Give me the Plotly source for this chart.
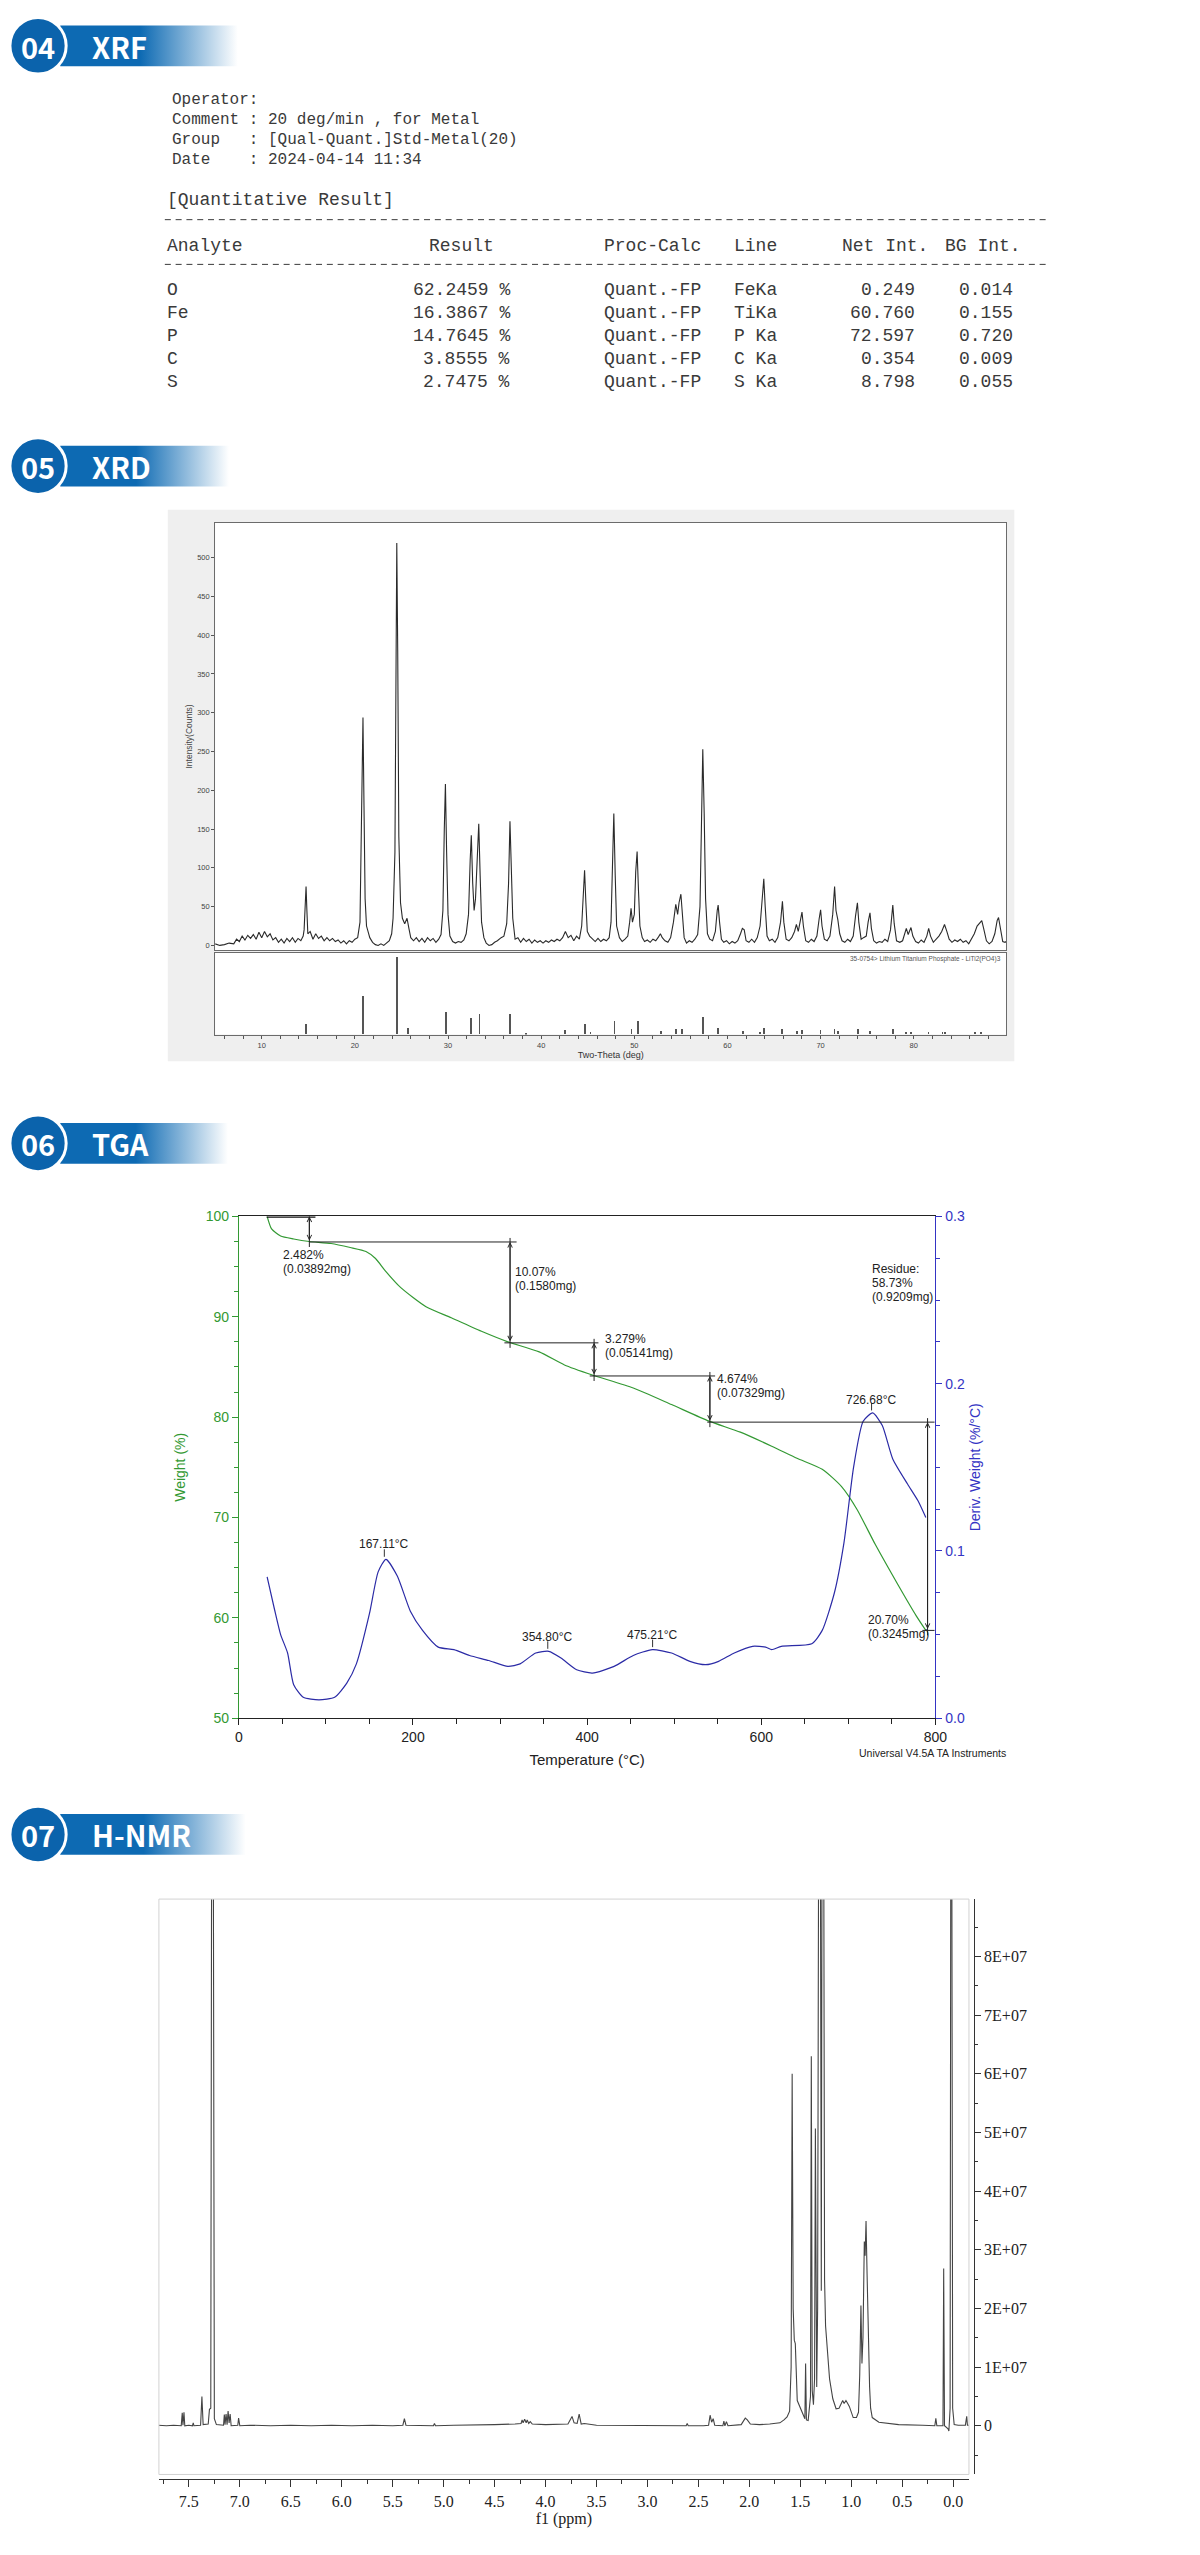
import plotly.graph_objects as go

PAGE_W, PAGE_H = 1200, 2555


def fx(px):
    # page pixel -> paper x
    return px / PAGE_W


def fy(py):
    # page pixel (from top) -> paper y
    return 1 - py / PAGE_H


# ---------------- section headers ----------------
section_numbers = ["04", "05", "06", "07"]
section_titles = ["XRF", "XRD", "TGA", "H-NMR"]

# ---------------- XRF report ----------------
xrf_meta_lines = [
    "Operator:",
    "Comment : 20 deg/min , for Metal",
    "Group   : [Qual-Quant.]Std-Metal(20)",
    "Date    : 2024-04-14 11:34",
]
xrf_columns = ["Analyte", "Result", "Proc-Calc", "Line", "Net Int.", "BG Int."]
xrf_analyte = ["O", "Fe", "P", "C", "S"]
xrf_result = [62.2459, 16.3867, 14.7645, 3.8555, 2.7475]
xrf_proc_calc = ["Quant.-FP", "Quant.-FP", "Quant.-FP", "Quant.-FP", "Quant.-FP"]
xrf_line = ["FeKa", "TiKa", "P Ka", "C Ka", "S Ka"]
xrf_net_int = [0.249, 60.760, 72.597, 0.354, 8.798]
xrf_bg_int = [0.014, 0.155, 0.720, 0.009, 0.055]

# ---------------- XRD pattern ----------------
xrd_two_theta = [
    5.0, 5.5, 6.0, 6.5, 7.0, 7.3, 7.6, 7.9, 8.2, 8.5,
    8.8, 9.1, 9.4, 9.7, 10.0, 10.3, 10.6, 10.9, 11.2, 11.5,
    11.8, 12.1, 12.4, 12.7, 13.0, 13.3, 13.6, 13.9, 14.2, 14.45,
    14.55, 14.68, 14.76, 14.85, 14.95, 15.2, 15.5, 15.8, 16.1, 16.4,
    16.7, 17.0, 17.3, 17.6, 17.9, 18.2, 18.5, 18.8, 19.1, 19.4,
    19.7, 20.0, 20.3, 20.55, 20.72, 20.87, 20.98, 21.1, 21.25, 21.4,
    21.6, 21.9, 22.2, 22.5, 22.8, 23.1, 23.4, 23.7, 23.95, 24.1,
    24.3, 24.42, 24.5, 24.6, 24.72, 24.9, 25.1, 25.35, 25.6, 25.8,
    26.0, 26.3, 26.6, 26.9, 27.2, 27.5, 27.8, 28.1, 28.4, 28.7,
    29.0, 29.25, 29.45, 29.6, 29.72, 29.85, 30.0, 30.2, 30.5, 30.8,
    31.1, 31.4, 31.7, 31.95, 32.2, 32.38, 32.5, 32.65, 32.8, 32.95,
    33.15, 33.3, 33.45, 33.6, 33.85, 34.1, 34.4, 34.7, 35.0, 35.3,
    35.7, 36.0, 36.3, 36.5, 36.65, 36.8, 36.95, 37.2, 37.5, 37.8,
    38.1, 38.4, 38.7, 39.0, 39.3, 39.6, 39.9, 40.2, 40.5, 40.8,
    41.1, 41.4, 41.7, 42.0, 42.3, 42.6, 42.9, 43.2, 43.5, 43.8,
    44.1, 44.35, 44.5, 44.66, 44.8, 44.95, 45.2, 45.5, 45.8, 46.1,
    46.4, 46.7, 47.0, 47.3, 47.5, 47.65, 47.8, 47.95, 48.1, 48.4,
    48.7, 49.0, 49.3, 49.5, 49.65, 49.8, 50.0, 50.15, 50.3, 50.45,
    50.6, 50.85, 51.1, 51.4, 51.7, 52.0, 52.3, 52.6, 52.8, 53.0,
    53.3, 53.6, 53.9, 54.2, 54.45, 54.65, 54.8, 55.0, 55.15, 55.35,
    55.6, 55.9, 56.2, 56.5, 56.8, 57.05, 57.2, 57.35, 57.5, 57.65,
    57.85, 58.1, 58.4, 58.7, 58.9, 59.0, 59.15, 59.35, 59.6, 59.9,
    60.2, 60.5, 60.8, 61.1, 61.4, 61.6, 61.8, 62.0, 62.3, 62.6,
    62.9, 63.2, 63.5, 63.75, 63.9, 64.05, 64.25, 64.5, 64.8, 65.1,
    65.4, 65.7, 65.9, 66.05, 66.3, 66.6, 66.9, 67.2, 67.4, 67.6,
    67.85, 68.0, 68.15, 68.4, 68.7, 69.0, 69.3, 69.6, 69.85, 70.0,
    70.15, 70.4, 70.7, 71.0, 71.3, 71.5, 71.65, 71.85, 72.05, 72.3,
    72.6, 72.9, 73.2, 73.5, 73.75, 73.95, 74.1, 74.35, 74.6, 74.9,
    75.1, 75.3, 75.45, 75.7, 76.0, 76.3, 76.6, 76.9, 77.2, 77.5,
    77.75, 77.9, 78.15, 78.5, 78.8, 79.05, 79.2, 79.4, 79.7, 79.9,
    80.2, 80.5, 80.8, 81.1, 81.4, 81.6, 81.8, 82.1, 82.4, 82.7,
    83.0, 83.3, 83.55, 83.8, 84.1, 84.4, 84.7, 85.0, 85.3, 85.6,
    85.9, 86.2, 86.5, 86.8, 87.1, 87.3, 87.5, 87.8, 88.1, 88.4,
    88.7, 88.95, 89.1, 89.3, 89.55, 89.8, 90.0,
]
xrd_counts = [
    2, 0, 1, 3, 2, 8, 5, 12, 7, 13,
    9, 14, 8, 17, 10, 18, 11, 15, 7, 10,
    4, 8, 3, 9, 5, 10, 4, 9, 6, 12,
    20, 55, 76, 45, 15, 18, 8, 15, 9, 12,
    6, 10, 6, 9, 5, 7, 3, 6, 2, 6,
    4, 8, 10, 30, 150, 294, 180, 60, 25, 18,
    10, 4, 1, 0, 2, 0, 3, 6, 15, 35,
    120, 350, 519, 380, 140, 55, 35, 28, 35, 22,
    10, 6, 10, 5, 9, 4, 10, 6, 9, 4,
    8, 14, 45, 150, 208, 120, 40, 12, 5, 3,
    5, 4, 7, 15, 40, 110, 142, 80, 45, 60,
    120, 157, 90, 30, 10, 3, 0, 1, 4, 6,
    10, 12, 28, 80, 160, 110, 35, 8, 10, 4,
    9, 5, 8, 3, 7, 4, 6, 3, 6, 4,
    7, 5, 8, 6, 10, 18, 10, 13, 6, 12,
    8, 25, 60, 97, 55, 18, 12, 8, 5, 9,
    5, 8, 6, 10, 30, 100, 170, 90, 25, 10,
    5, 8, 12, 30, 48, 30, 40, 95, 121, 70,
    25, 10, 5, 7, 4, 8, 6, 11, 15, 10,
    6, 4, 10, 30, 53, 40, 55, 66, 40, 10,
    3, 6, 4, 8, 14, 50, 150, 253, 170, 60,
    15, 8, 6, 18, 45, 52, 30, 8, 4, 6,
    2, 5, 3, 6, 15, 22, 20, 6, 4, 8,
    4, 10, 25, 60, 86, 50, 12, 6, 8, 4,
    10, 30, 57, 30, 8, 6, 10, 18, 27, 18,
    35, 43, 25, 6, 4, 8, 5, 12, 35, 46,
    25, 8, 6, 12, 40, 76, 45, 33, 15, 6,
    4, 8, 5, 12, 38, 55, 30, 8, 10, 12,
    30, 42, 22, 6, 3, 5, 4, 8, 5, 20,
    52, 28, 6, 4, 6, 18, 22, 14, 23, 12,
    5, 3, 7, 4, 12, 22, 12, 4, 8, 12,
    18, 27, 18, 8, 4, 7, 5, 8, 4, 6,
    2, 8, 15, 25, 30, 32, 22, 6, 2, 5,
    15, 32, 36, 20, 5, 4, 6,
]
xrd_ref_two_theta = [14.8, 20.9, 24.5, 25.7, 29.8, 32.5, 33.4, 36.7, 38.4, 42.6,
                     44.7, 45.3, 47.9, 49.7, 50.4, 52.9, 54.5, 55.1, 57.4, 59.0,
                     61.7, 63.5, 63.9, 65.9, 67.5, 68.0, 70.0, 71.5, 71.9, 74.0,
                     75.3, 77.8, 79.2, 79.7, 81.6, 83.1, 83.4, 86.6, 87.2]
xrd_ref_intensity = [14, 50, 100, 9, 29, 21, 27, 26, 2, 6,
                     13, 3, 18, 7, 17, 4, 7, 7, 22, 8,
                     5, 3, 9, 7, 5, 6, 6, 7, 4, 7,
                     5, 7, 3, 3, 3, 3, 3, 3, 3]
xrd_ref_label = "35-0754> Lithium Titanium Phosphate - LiTi2(PO4)3"

# ---------------- TGA ----------------
tga_temp = [32.5, 37.6, 48, 63, 81, 106, 128, 146, 157, 168,
            186, 215, 244, 280, 309, 345, 374, 406, 453, 497,
            540, 576, 612, 641, 670, 692, 710, 731, 757, 778, 789]
tga_weight = [100, 98.75, 98.04, 97.75, 97.5, 97.3, 96.9, 96.5, 95.8, 94.6,
              92.9, 91.0, 89.9, 88.5, 87.5, 86.5, 85.2, 84.2, 82.9, 81.25,
              79.6, 78.5, 77.1, 75.9, 74.8, 73.1, 70.8, 67.3, 63.3, 60.2, 58.75]
dtg_temp = [32.5, 41, 48, 56, 63, 74, 92, 110, 124, 135,
            150, 160, 169, 182, 197, 211, 229, 247, 265, 287,
            309, 323, 341, 356, 370, 388, 406, 431, 453, 475,
            497, 518, 536, 551, 569, 590, 605, 612, 623, 658,
            670, 684, 695, 706, 717, 728, 739, 751, 768, 780, 789]
dtg_deriv = [0.0845, 0.065, 0.05, 0.039, 0.02, 0.0125, 0.011, 0.0125, 0.021, 0.0325,
             0.0625, 0.0875, 0.095, 0.085, 0.064, 0.0525, 0.0425, 0.041, 0.0375, 0.0345,
             0.031, 0.0325, 0.039, 0.04, 0.036, 0.029, 0.027, 0.031, 0.0375, 0.041,
             0.039, 0.034, 0.032, 0.034, 0.039, 0.043, 0.0425, 0.041, 0.043, 0.0445,
             0.0525, 0.075, 0.105, 0.15, 0.1775, 0.1825, 0.175, 0.155, 0.14, 0.13, 0.12]

# weight-loss steps: arrow x, upper and lower weight levels
step_temp = [81, 311.5, 408, 541, 791]
step_upper = [100, 97.45, 87.4, 84.1, 79.5]
step_lower = [97.45, 87.4, 84.1, 79.5, 58.75]
step_guide_from = [81, 305, 403, 538, 785]
step_guide_to = [319, 413, 547, 799, 799]
step_pct = ["2.482%", "10.07%", "3.279%", "4.674%", "20.70%"]
step_mass = ["(0.03892mg)", "(0.1580mg)", "(0.05141mg)", "(0.07329mg)", "(0.3245mg)"]
step_label_temp = [48.4, 314.4, 418.4, 547, 720.5]
step_label_weight = [96.12, 94.5, 87.79, 83.83, 59.79]

residue_lines = ["Residue:", "58.73%", "(0.9209mg)"]

peak_temp = [167.11, 354.80, 475.21, 726.68]
peak_deriv = [0.095, 0.040, 0.041, 0.1825]
peak_label_weight = [67.37, 58.12, 58.33, 81.75]

# ---------------- H-NMR ----------------
nmr_ppm = [
    7.80, 7.72, 7.65, 7.575, 7.565, 7.558, 7.548, 7.54, 7.50, 7.465,
    7.457, 7.45, 7.385, 7.372, 7.36, 7.31, 7.298, 7.285, 7.275, 7.262,
    7.25, 7.23, 7.16, 7.152, 7.145, 7.135, 7.125, 7.115, 7.105, 7.095,
    7.085, 7.02, 7.012, 7.0, 6.9, 6.7, 6.5, 6.3, 6.1, 5.9,
    5.7, 5.5, 5.40, 5.385, 5.37, 5.25, 5.10, 5.09, 5.08, 4.9,
    4.7, 4.5, 4.3, 4.24, 4.23, 4.22, 4.205, 4.19, 4.18, 4.165,
    4.15, 4.13, 4.0, 3.9, 3.78, 3.74, 3.72, 3.69, 3.67, 3.65,
    3.62, 3.5, 3.3, 3.1, 2.9, 2.7, 2.62, 2.61, 2.60, 2.45,
    2.40, 2.385, 2.37, 2.355, 2.34, 2.26, 2.25, 2.24, 2.225, 2.21,
    2.08, 2.04, 2.02, 1.99, 1.90, 1.80, 1.70, 1.66, 1.63, 1.605,
    1.59, 1.58, 1.57, 1.559, 1.549, 1.53, 1.50, 1.471, 1.455, 1.448,
    1.44, 1.423, 1.40, 1.392, 1.383, 1.371, 1.36, 1.352, 1.343, 1.339,
    1.33, 1.318, 1.305, 1.294, 1.285, 1.272, 1.262, 1.252, 1.239, 1.213,
    1.181, 1.149, 1.12, 1.084, 1.07, 1.052, 1.035, 1.019, 0.981, 0.949,
    0.929, 0.917, 0.905, 0.895, 0.885, 0.872, 0.864, 0.855, 0.845, 0.833,
    0.82, 0.81, 0.794, 0.729, 0.535, 0.30, 0.18, 0.17, 0.16, 0.10,
    0.093, 0.085, 0.05, 0.042, 0.03, 0.022, 0.015, 0.005, -0.01, -0.05,
    -0.12, -0.133, -0.14, -0.155,
]
# intensity in units of 1E+07
nmr_intensity = [
    0.01, 0.0, 0.01, 0.0, 0.22, 0.01, 0.23, 0.0, 0.01, 0.0,
    0.05, 0.0, 0.01, 0.50, 0.02, 0.03, 0.28, 0.3, 12, 12,
    0.12, 0.02, 0.01, 0.19, 0.02, 0.2, 0.02, 0.25, 0.05, 0.2,
    0.0, 0.01, 0.13, 0.0, 0.01, 0.0, 0.01, 0.0, 0.01, 0.0,
    0.01, 0.0, 0.01, 0.12, 0.01, 0.0, 0.0, 0.04, 0.0, 0.01,
    0.01, 0.02, 0.03, 0.04, 0.1, 0.05, 0.11, 0.05, 0.1, 0.04,
    0.07, 0.03, 0.02, 0.03, 0.03, 0.16, 0.05, 0.04, 0.2, 0.03,
    0.04, 0.01, 0.01, 0.0, 0.01, 0.0, 0.0, 0.04, 0.0, 0.0,
    0.01, 0.18, 0.06, 0.12, 0.01, 0.0, 0.08, 0.0, 0.07, 0.0,
    0.02, 0.13, 0.1, 0.03, 0.02, 0.03, 0.05, 0.1, 0.15, 0.25,
    1.0, 6.0, 2.0, 1.46, 1.4, 0.43, 0.3, 0.19, 0.12, 1.06,
    0.1, 0.09, 0.5, 6.3, 0.6, 0.36, 0.8, 5.07, 0.8, 0.66,
    2.0, 12, 12, 2.3, 12, 12, 2.5, 1.7, 1.33, 0.8,
    0.46, 0.29, 0.3, 0.43, 0.38, 0.43, 0.38, 0.33, 0.14, 0.14,
    0.23, 0.86, 2.05, 1.06, 1.5, 3.14, 2.9, 3.49, 2.6, 1.5,
    0.66, 0.3, 0.14, 0.06, 0.02, 0.01, 0.0, 0.125, 0.0, 0.0,
    2.68, 0.0, -0.05, -0.09, 0.3, 12, 12, 0.3, 0.02, 0.01,
    0.01, 0.16, 0.01, 0.01,
]
nmr_tick_vals = [0, 1, 2, 3, 4, 5, 6, 7, 8]
nmr_tick_text = ["0", "1E+07", "2E+07", "3E+07", "4E+07", "5E+07", "6E+07", "7E+07", "8E+07"]

# ---------------- styling ----------------
BLUE = "#0d6ab3"
BLUE_DARK = "#0b63ac"
GREEN = "#339933"
NAVY = "#2b2ba6"
AXIS_BLUE = "#3434c4"
MONO = "Liberation Mono"
SANS = "Liberation Sans"
SERIF = "Liberation Serif"
HEAD = "Noto Sans CJK KR"
XRF_TEXT = "#3a3a3a"

HEADER_Y = [38, 461, 1142.5, 1838]
HEADER_BAR_END = [237, 228, 227, 245]

fig = go.Figure()
shapes = []
annotations = []

# XRD traces
fig.add_trace(go.Scatter(x=xrd_two_theta, y=xrd_counts, mode="lines",
                         line=dict(color="#2a2a2a", width=1.1),
                         xaxis="x", yaxis="y", hoverinfo="skip"))
fig.add_trace(go.Bar(x=xrd_ref_two_theta, y=xrd_ref_intensity, width=0.08,
                     marker=dict(color="#555555", line=dict(width=0)),
                     xaxis="x2", yaxis="y2", hoverinfo="skip"))

# TGA traces
fig.add_trace(go.Scatter(x=tga_temp, y=tga_weight, mode="lines",
                         line=dict(color=GREEN, width=1.2, shape="spline", smoothing=0.6),
                         xaxis="x3", yaxis="y3", hoverinfo="skip"))
fig.add_trace(go.Scatter(x=dtg_temp, y=dtg_deriv, mode="lines",
                         line=dict(color=NAVY, width=1.2, shape="spline", smoothing=0.6),
                         xaxis="x3", yaxis="y4", hoverinfo="skip"))

# NMR trace
fig.add_trace(go.Scatter(x=nmr_ppm, y=nmr_intensity, mode="lines",
                         line=dict(color="#444444", width=1.1),
                         xaxis="x5", yaxis="y5", hoverinfo="skip"))

# section headers drawn on a full-page pixel axis (x6/y6)
for num, title, cy, x_end in zip(section_numbers, section_titles, HEADER_Y, HEADER_BAR_END):
    fig.add_trace(go.Scatter(
        x=[57, x_end, x_end, 57, 57], y=[cy - 20.5, cy - 20.5, cy + 20.5, cy + 20.5, cy - 20.5],
        mode="lines", line=dict(width=0), fill="toself",
        fillgradient=dict(type="horizontal",
                          colorscale=[[0, BLUE], [0.45, BLUE], [1, "rgba(255,255,255,1)"]]),
        xaxis="x6", yaxis="y6", hoverinfo="skip"))
    shapes.append(dict(type="circle", xref="x6", yref="y6", x0=6, x1=63,
                       y0=cy - 28.5, y1=cy + 28.5, fillcolor=BLUE_DARK,
                       line=dict(color="white", width=3), layer="above"))
    annotations.append(dict(xref="x6", yref="y6", x=34.5, y=cy, text=num, showarrow=False,
                            font=dict(family=HEAD, size=29, color="white", weight="bold")))
    annotations.append(dict(xref="x6", yref="y6", x=87, y=cy, text=title, showarrow=False,
                            xanchor="left",
                            font=dict(family=HEAD, size=29, color="white", weight="bold")))


def page_text(x, y, text, size, anchor="left", family=MONO, color=XRF_TEXT):
    annotations.append(dict(xref="x6", yref="y6", x=x, y=y, text=text, showarrow=False,
                            xanchor=anchor, yanchor="middle",
                            font=dict(family=family, size=size, color=color)))


# XRF report
for i, line in enumerate(xrf_meta_lines):
    page_text(168, 93 + 20 * i, line.replace(" ", "&nbsp;"), 16)
page_text(163, 193, "[Quantitative Result]", 18)
for yy in (213, 258):
    shapes.append(dict(type="line", xref="x6", yref="y6", x0=163, x1=1056, y0=yy, y1=yy,
                       line=dict(color=XRF_TEXT, width=1, dash="6px,4.8px")))
col_x = [163, 429, 606, 738, 847, 952]
for cx, name in zip(col_x, xrf_columns):
    page_text(cx, 239, name, 18)
for i in range(len(xrf_analyte)):
    ry = 284 + 23 * i
    page_text(163, ry, xrf_analyte[i], 18)
    page_text(515, ry, f"{xrf_result[i]:.4f} %", 18, anchor="right")
    page_text(606, ry, xrf_proc_calc[i], 18)
    page_text(738, ry, xrf_line[i].replace(" ", "&nbsp;"), 18)
    page_text(925, ry, f"{xrf_net_int[i]:.3f}", 18, anchor="right")
    page_text(1025, ry, f"{xrf_bg_int[i]:.3f}", 18, anchor="right")

# XRD backdrop
shapes.append(dict(type="rect", xref="paper", yref="paper", x0=fx(166), x1=fx(1024),
                   y0=fy(1060), y1=fy(505), fillcolor="#efefef", line=dict(width=0), layer="below"))
for top, bottom in ((518, 948), (951, 1033)):
    shapes.append(dict(type="rect", xref="paper", yref="paper", x0=fx(214), x1=fx(1016),
                       y0=fy(bottom), y1=fy(top), fillcolor="white", line=dict(width=0),
                       layer="below"))
annotations.append(dict(xref="paper", yref="paper", x=fx(1013), y=fy(957), text=xrd_ref_label,
                        showarrow=False, xanchor="right", yanchor="middle",
                        font=dict(family=SANS, size=6.5, color="#555555")))

# TGA decorations
def tga_text(x, y, text, anchor="left"):
    annotations.append(dict(xref="x3", yref="y3", x=x, y=y, text=text, showarrow=False,
                            xanchor=anchor, yanchor="middle",
                            font=dict(family=SANS, size=12, color="#222222")))


shapes.append(dict(type="line", xref="x3", yref="y3", x0=32, x1=88, y0=100, y1=100,
                   line=dict(color="#111111", width=2.5)))
for i in range(len(step_temp)):
    lvl = step_lower[i]
    shapes.append(dict(type="line", xref="x3", yref="y3", x0=step_guide_from[i],
                       x1=step_guide_to[i], y0=lvl, y1=lvl, line=dict(color="#222222", width=1)))
    shapes.append(dict(type="line", xref="x3", yref="y3", x0=step_temp[i], x1=step_temp[i],
                       y0=step_upper[i] + 0.4, y1=step_lower[i] - 0.5,
                       line=dict(color="#222222", width=1)))
    annotations.append(dict(xref="x3", yref="y3", axref="x3", ayref="y3",
                            x=step_temp[i], y=step_upper[i], ax=step_temp[i], ay=step_lower[i],
                            text="", showarrow=True, arrowside="end+start",
                            arrowhead=5, startarrowhead=5, arrowsize=0.9, startarrowsize=0.9,
                            arrowwidth=1, arrowcolor="#222222", standoff=0, startstandoff=0))
    tga_text(step_label_temp[i], step_label_weight[i], step_pct[i])
    tga_text(step_label_temp[i], step_label_weight[i] - 1.4, step_mass[i])
for j, line in enumerate(residue_lines):
    tga_text(725, 94.8 - 1.4 * j, line)
for t, d, w in zip(peak_temp, peak_deriv, peak_label_weight):
    shapes.append(dict(type="line", xref="x3", yref="y4", x0=t, x1=t, y0=d + 0.0015, y1=d + 0.006,
                       line=dict(color="#333333", width=1)))
    tga_text(t, w, f"{t:.2f}°C", anchor="center")
annotations.append(dict(xref="paper", yref="paper", x=fx(1018), y=fy(1756),
                        text="Universal V4.5A TA Instruments", showarrow=False,
                        xanchor="right", yanchor="middle",
                        font=dict(family=SANS, size=10.5, color="#222222")))

# NMR frame
shapes.append(dict(type="rect", xref="paper", yref="paper", x0=fx(157), x1=fx(978),
                   y0=fy(2482), y1=fy(1903), line=dict(color="#d2d2d2", width=1)))

xrd_axis_font = dict(family=SANS, size=7.5, color="#444444")
common = dict(showgrid=False, zeroline=False)

fig.update_layout(
    width=PAGE_W, height=PAGE_H, autosize=False,
    margin=dict(l=0, r=0, t=0, b=0),
    paper_bgcolor="white", plot_bgcolor="rgba(0,0,0,0)",
    showlegend=False, bargap=0,
    xaxis=dict(domain=[fx(214), fx(1016)], range=[5, 89.95], anchor="y",
               showticklabels=False, ticks="", showline=True, mirror=True,
               linecolor="#6b6b6b", **common),
    yaxis=dict(domain=[fy(948), fy(518)], range=[-6, 545], anchor="x",
               tickmode="linear", tick0=0, dtick=50, ticks="outside", ticklen=3,
               tickcolor="#555555", tickfont=xrd_axis_font, showline=True, mirror=True,
               linecolor="#6b6b6b",
               title=dict(text="Intensity(Counts)", standoff=3,
                          font=dict(family=SANS, size=8.5, color="#444444")), **common),
    xaxis2=dict(domain=[fx(214), fx(1016)], range=[5, 89.95], anchor="y2",
                tickmode="linear", tick0=0, dtick=10, ticks="outside", ticklen=3,
                tickcolor="#555555", tickfont=xrd_axis_font,
                minor=dict(dtick=2, tick0=0, ticks="outside", ticklen=3, tickcolor="#555555"),
                showline=True, mirror=True, linecolor="#6b6b6b",
                title=dict(text="Two-Theta (deg)", standoff=3,
                           font=dict(family=SANS, size=9, color="#333333")), **common),
    yaxis2=dict(domain=[fy(1033), fy(951)], range=[0, 105], anchor="x2",
                showticklabels=False, ticks="", showline=True, mirror=True,
                linecolor="#6b6b6b", **common),
    xaxis3=dict(domain=[fx(238), fx(944)], range=[0, 800], anchor="y3",
                tickmode="linear", tick0=0, dtick=200, ticks="outside", ticklen=6,
                tickcolor="#222222",
                minor=dict(dtick=50, tick0=0, ticks="outside", ticklen=5, tickcolor="#222222"),
                showline=True, mirror=True, linecolor="#222222",
                tickfont=dict(family=SANS, size=14, color="#222222"),
                title=dict(text="Temperature (°C)", standoff=10,
                           font=dict(family=SANS, size=15, color="#222222")), **common),
    yaxis3=dict(domain=[fy(1721), fy(1216)], range=[50, 100], anchor="x3",
                tickmode="linear", tick0=0, dtick=10, ticks="outside", ticklen=6,
                tickcolor=GREEN,
                minor=dict(dtick=2.5, tick0=0, ticks="outside", ticklen=4, tickcolor=GREEN),
                showline=True, linecolor=GREEN,
                tickfont=dict(family=SANS, size=14, color=GREEN),
                title=dict(text="Weight (%)", standoff=16,
                           font=dict(family=SANS, size=14, color=GREEN)), **common),
    yaxis4=dict(overlaying="y3", side="right", anchor="x3", range=[0, 0.3],
                tickmode="linear", tick0=0, dtick=0.1, tickformat=".1f",
                ticks="outside", ticklen=6, tickcolor=AXIS_BLUE,
                minor=dict(dtick=0.025, tick0=0, ticks="outside", ticklen=4,
                           tickcolor=AXIS_BLUE),
                showline=True, linecolor=AXIS_BLUE,
                tickfont=dict(family=SANS, size=14, color=AXIS_BLUE),
                title=dict(text="Deriv. Weight (%/°C)", standoff=6,
                           font=dict(family=SANS, size=14, color=AXIS_BLUE)), **common),
    xaxis5=dict(domain=[fx(157), fx(978)], range=[7.794, -0.155], anchor="free",
                position=fy(2487), tickmode="linear", tick0=0, dtick=0.5, tickformat=".1f",
                ticks="outside", ticklen=7, tickcolor="#333333",
                minor=dict(dtick=0.25, tick0=0, ticks="outside", ticklen=4,
                           tickcolor="#333333"),
                showline=True, linecolor="#333333",
                tickfont=dict(family=SERIF, size=16, color="#222222"),
                title=dict(text="f1 (ppm)", standoff=1,
                           font=dict(family=SERIF, size=16, color="#222222")), **common),
    yaxis5=dict(domain=[fy(2482), fy(1903)], range=[-0.83, 8.98], anchor="free",
                position=fx(983), side="right", tickmode="array",
                tickvals=nmr_tick_vals, ticktext=nmr_tick_text,
                ticks="outside", ticklen=6, tickcolor="#333333",
                minor=dict(dtick=0.5, tick0=0, ticks="outside", ticklen=3,
                           tickcolor="#333333"),
                showline=True, linecolor="#333333",
                tickfont=dict(family=SERIF, size=16, color="#222222"), **common),
    xaxis6=dict(domain=[0, 1], range=[0, PAGE_W], anchor="y6", visible=False, fixedrange=True),
    yaxis6=dict(domain=[0, 1], range=[PAGE_H, 0], anchor="x6", visible=False, fixedrange=True),
    shapes=shapes,
    annotations=annotations,
)

fig.write_html("out.html", config={"displayModeBar": False},
               post_script="document.body.style.margin='0';")
